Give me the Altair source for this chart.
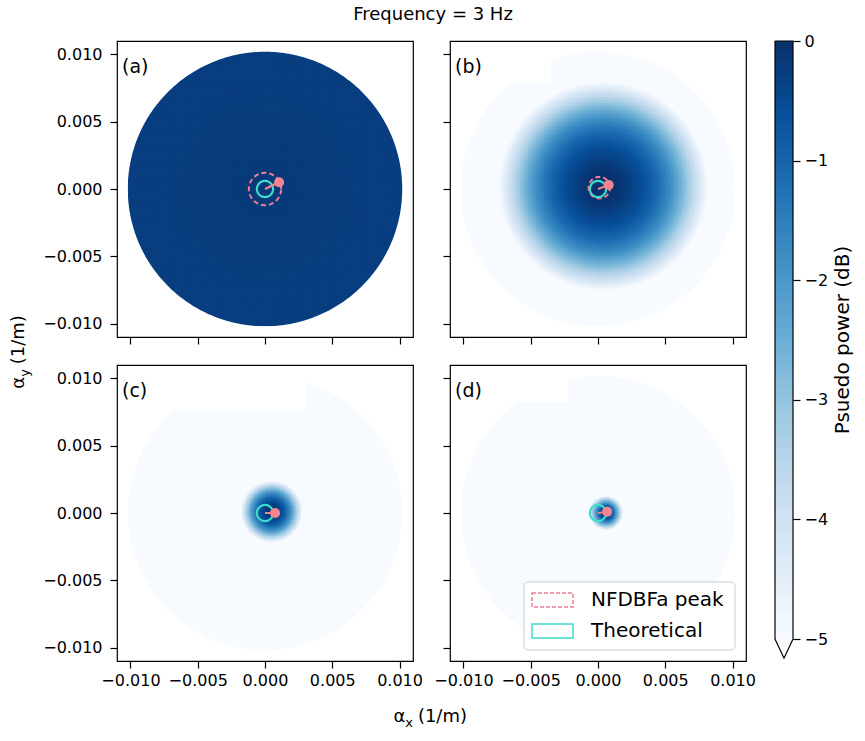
import altair as alt
import numpy as np
import pandas as pd

alt.data_transformers.disable_max_rows()

FONT = "DejaVu Sans"

# ---------------- data ----------------
PANEL_LABELS = ["(a)", "(b)", "(c)", "(d)"]
TITLE = "Frequency = 3 Hz"
COLORBAR_TITLE = "Psuedo power (dB)"
LEGEND_LABELS = ["NFDBFa peak", "Theoretical"]

AXIS_TICKS = [-0.010, -0.005, 0.0, 0.005, 0.010]
AXIS_DOMAIN = [-0.011, 0.011]
CBAR_TICKS = [-5, -4, -3, -2, -1, 0]

DISK_RADIUS = 0.0102
BEAM_X = [0.0, 0.0004, 0.0005, 0.0006]
BEAM_Y = [0.0, 0.0002, 0.0001, 0.0]
PROFILE_R = [0.0, 0.0005, 0.001, 0.0015, 0.002, 0.003, 0.004, 0.005, 0.006, 0.007, 0.008, 0.011]
PROFILE_DB_A = [-0.18, -0.18, -0.19, -0.19, -0.2, -0.21, -0.22, -0.23, -0.24, -0.25, -0.26, -0.28]
PROFILE_DB_B = [0.0, -0.02, -0.06, -0.15, -0.3, -0.6, -1.1, -1.8, -2.8, -4.0, -5.3, -12.0]
PROFILE_DB_C = [0.0, -0.25, -0.9, -2.1, -3.8, -8.0, -15.0, -15.0, -15.0, -15.0, -15.0, -15.0]
PROFILE_DB_D = [0.0, -0.8, -3.2, -6.5, -10.0, -15.0, -15.0, -15.0, -15.0, -15.0, -15.0, -15.0]
PROFILES = [PROFILE_DB_A, PROFILE_DB_B, PROFILE_DB_C, PROFILE_DB_D]

PEAK_X = [0.00105, 0.0008, 0.00075, 0.00068]
PEAK_Y = [0.0005, 0.0003, 0.0, 0.0001]
NFDBFA_R = [0.0012, 0.0008, 0.0, 0.0]
NFDBFA_CX = [0.0, 0.0001, 0.0, 0.0]
NFDBFA_CY = [0.0, 0.0001, 0.0, 0.0]
THEORY_R = 0.0006

BLUES = ["#f7fbff", "#deebf7", "#c6dbef", "#9ecae1", "#6baed6",
         "#4292c6", "#2171b5", "#08519c", "#08306b"]
BLUES_STOPS = [-5, -4.375, -3.75, -3.125, -2.5, -1.875, -1.25, -0.625, 0]

PINK = "#ee7d93"
DOT = "#f4858e"
TEAL = "#3fdccb"

# ---------------- layout / rendering constants ----------------
W, H = 296, 296
CELL = 0.0004
NCELL = 26
DETAIL_RADIUS = [0.0, 0.0085, 0.003, 0.0019]
DETAIL_SPLIT = [1, 2, 4, 5]
EDGE_SPLIT = 2
OVERLAP = 0.00007          # ~1px overlap of neighbouring cells, hides seams
MASK_WIDTH = 6             # px, white ring that gives the disk a smooth edge
NOTCH = [None, (101, 42), (190, 44), (118, 37)]
TICK_FONT = 16
LABEL_FONT = 18
ONE = pd.DataFrame({"k": [0]})


def heat_frame(i):
    rows = {"x": [], "x2": [], "y": [], "y2": [], "v": []}
    bx, by = BEAM_X[i], BEAM_Y[i]

    def add(sx, sy, sub):
        mx, my = sx + sub / 2, sy + sub / 2
        v = float(np.interp(np.hypot(mx - bx, my - by), PROFILE_R, PROFILES[i]))
        rows["x"].append(round(sx, 7))
        rows["x2"].append(round(sx + sub, 7))
        rows["y"].append(round(sy, 7))
        rows["y2"].append(round(sy + sub, 7))
        rows["v"].append(round(v, 3))

    def dists(x0, y0, x1, y1):
        dmin = np.hypot(min(abs(x0), abs(x1)), min(abs(y0), abs(y1)))
        dmax = np.hypot(max(abs(x0), abs(x1)), max(abs(y0), abs(y1)))
        return dmin, dmax

    for gi in range(-NCELL, NCELL):
        for gj in range(-NCELL, NCELL):
            x0, y0 = gi * CELL, gj * CELL
            dmin, dmax = dists(x0, y0, x0 + CELL, y0 + CELL)
            if dmin >= DISK_RADIUS:
                continue
            split = EDGE_SPLIT if dmax > DISK_RADIUS else 1
            if np.hypot(x0 + CELL / 2 - bx, y0 + CELL / 2 - by) < DETAIL_RADIUS[i]:
                split = max(split, DETAIL_SPLIT[i])
            sub = CELL / split
            for a in range(split):
                for b in range(split):
                    sx, sy = x0 + a * sub, y0 + b * sub
                    smin, _ = dists(sx, sy, sx + sub, sy + sub)
                    if smin < DISK_RADIUS:
                        add(sx, sy, sub)
    return pd.DataFrame(rows)


def circle_frame(cx, cy, r, n=90):
    t = np.linspace(0, 2 * np.pi, n + 1)
    return pd.DataFrame({"x": cx + r * np.cos(t), "y": cy + r * np.sin(t), "k": np.arange(n + 1)})


color_scale = alt.Scale(domain=BLUES_STOPS, range=BLUES, clamp=True, interpolate="rgb")
pos_scale = alt.Scale(domain=AXIS_DOMAIN, nice=False, zero=False)


def axis(labels, pad):
    return alt.Axis(values=AXIS_TICKS, format=".3f", labels=labels, title=None, grid=False,
                    domain=False, ticks=True, tickSize=7, tickWidth=1.2, tickColor="black",
                    labelFont=FONT, labelFontSize=TICK_FONT, labelColor="black", labelPadding=pad)


def ptext(txt, x, y, size, angle=0, align="left", baseline="middle", opacity=1.0):
    return alt.Chart(ONE).mark_text(text=txt, font=FONT, fontSize=size, angle=angle, align=align,
                                    baseline=baseline, color="black", opacity=opacity).encode(
        x=alt.value(x), y=alt.value(y))


def prect(x0, x1, y0, y1, **kw):
    return alt.Chart(ONE).mark_rect(**kw).encode(
        x=alt.value(x0), x2=alt.value(x1), y=alt.value(y0), y2=alt.value(y1))


def panel(i, xlabels, ylabels):
    xa, ya = axis(xlabels, 4), axis(ylabels, 8)
    X = alt.X("x:Q", scale=pos_scale, axis=xa)
    Y = alt.Y("y:Q", scale=pos_scale, axis=ya)
    r_px = DISK_RADIUS * W / (AXIS_DOMAIN[1] - AXIS_DOMAIN[0])
    mask_r = DISK_RADIUS * (r_px + MASK_WIDTH / 2) / r_px
    layers = [
        alt.Chart(heat_frame(i)).transform_calculate(
            xe=f"datum.x2 + {OVERLAP}", ye=f"datum.y2 + {OVERLAP}"
        ).mark_rect().encode(
            x=X, x2="xe:Q", y=Y, y2="ye:Q",
            color=alt.Color("v:Q", scale=color_scale, legend=None)),
        alt.Chart(circle_frame(0.0, 0.0, mask_r, 360)).mark_line(
            color="white", strokeWidth=MASK_WIDTH).encode(x=X, y=Y, order="k:Q"),
    ]
    if NOTCH[i] is not None:
        layers.append(prect(1, NOTCH[i][0], 1, NOTCH[i][1], fill="white"))
    if NFDBFA_R[i] > 0:
        layers.append(alt.Chart(circle_frame(NFDBFA_CX[i], NFDBFA_CY[i], NFDBFA_R[i])).mark_line(
            color=PINK, strokeWidth=2, strokeDash=[5, 3]).encode(x=X, y=Y, order="k:Q"))
    layers.append(alt.Chart(circle_frame(0.0, 0.0, THEORY_R)).mark_line(
        color=TEAL, strokeWidth=2.2).encode(x=X, y=Y, order="k:Q"))
    seg = pd.DataFrame({"x": [0.0, PEAK_X[i]], "y": [0.0, PEAK_Y[i]], "k": [0, 1]})
    layers.append(alt.Chart(seg).mark_line(color=DOT, strokeWidth=2).encode(x=X, y=Y, order="k:Q"))
    dot = pd.DataFrame({"x": [PEAK_X[i]], "y": [PEAK_Y[i]]})
    layers.append(alt.Chart(dot).mark_point(filled=True, size=100, color=DOT, opacity=1,
                                             strokeWidth=0).encode(x=X, y=Y))
    layers.append(ptext(PANEL_LABELS[i], 5, 26, 19))
    if i == 0:
        layers += [
            ptext(TITLE, 316, -26, LABEL_FONT, align="center"),
            ptext("α", -98, 341.8, LABEL_FONT, angle=270, align="center"),
            ptext("y", -92.5, 332, 13, angle=270, align="center"),
            ptext("(1/m)", -98, 298.7, LABEL_FONT, angle=270, align="center"),
        ]
    if i == 2:
        layers += [
            ptext("(1/m)", 350, 352, LABEL_FONT, align="right"),
            ptext("x", 296, 358, 13, align="right"),
            ptext("α", 288.3, 352, LABEL_FONT, align="right"),
        ]
    if i == 3:
        layers += [
            prect(74, 285, 217, 285, fill="white", stroke="#cccccc", strokeWidth=1, cornerRadius=4),
            prect(82, 123, 228, 242, fill="white", stroke=PINK, strokeWidth=1.5, strokeDash=[4, 2]),
            prect(82, 123, 259, 273, fill="white", stroke=TEAL, strokeWidth=1.5),
            ptext(LEGEND_LABELS[0], 141, 235, 20),
            ptext(LEGEND_LABELS[1], 141, 266, 20),
        ]
    return alt.layer(*layers).properties(width=W, height=H)


pa = panel(0, False, True)
pb = panel(1, False, False)
pc = panel(2, True, True)
pd_ = panel(3, True, False)

# ---------------- colorbar ----------------
cb_lo = [round(-5 + 0.05 * k, 3) for k in range(100)]
cb = pd.DataFrame({"x0": 0.0, "x1": 1.0, "y0": cb_lo, "y1": [round(v + 0.05, 3) for v in cb_lo],
                   "v": [round(v + 0.025, 3) for v in cb_lo]})
cbx = alt.Scale(domain=[0, 1], nice=False, zero=False)
cby = alt.Scale(domain=[-5, 0], nice=False, zero=False)
cb_axis = alt.Axis(orient="right", values=CBAR_TICKS, format="d", title=None, grid=False,
                   domain=False, tickSize=7, tickWidth=1.2, tickColor="black", labelFont=FONT,
                   labelFontSize=TICK_FONT, labelColor="black", labelPadding=4)
CX = alt.X("x0:Q", scale=cbx, axis=None)
CY = alt.Y("y0:Q", scale=cby, axis=cb_axis)
cbar_rects = alt.Chart(cb).transform_calculate(ye="min(datum.y1 + 0.012, 0)").mark_rect().encode(
    x=CX, x2="x1:Q", y=CY, y2="ye:Q",
    color=alt.Color("v:Q", scale=color_scale, legend=None))
tri = pd.DataFrame({"x0": [0.0, 0.5, 1.0], "y0": [-5.0, -5.16, -5.0], "y1": [-5.0, -5.0, -5.0]})
cbar_tri = alt.Chart(tri).mark_area(color="#f7fbff", opacity=1).encode(x=CX, y=CY, y2="y1:Q")
outline = pd.DataFrame({"x0": [0, 1, 1, 0.5, 0, 0], "y0": [0, 0, -5, -5.16, -5, 0], "k": list(range(6))})
cbar_line = alt.Chart(outline).mark_line(color="black", strokeWidth=1.2).encode(x=CX, y=CY, order="k:Q")
cbar = alt.layer(cbar_rects, cbar_tri, cbar_line,
                 ptext(COLORBAR_TITLE, 68, 299, 20, angle=270, align="center")).properties(
    width=18, height=598, view=alt.ViewBackground(stroke="transparent"))

grid = alt.concat(pa, pb, pc, pd_, columns=2, spacing={"row": 28, "column": 37}, bounds="flush")

chart = alt.hconcat(grid, cbar, spacing=15).properties(
    padding={"left": 9, "top": 5, "right": 5, "bottom": 5},
    background="white",
).configure_view(stroke="black", strokeWidth=1.2)

chart.save("out.html", embed_options={"renderer": "svg", "actions": False})
